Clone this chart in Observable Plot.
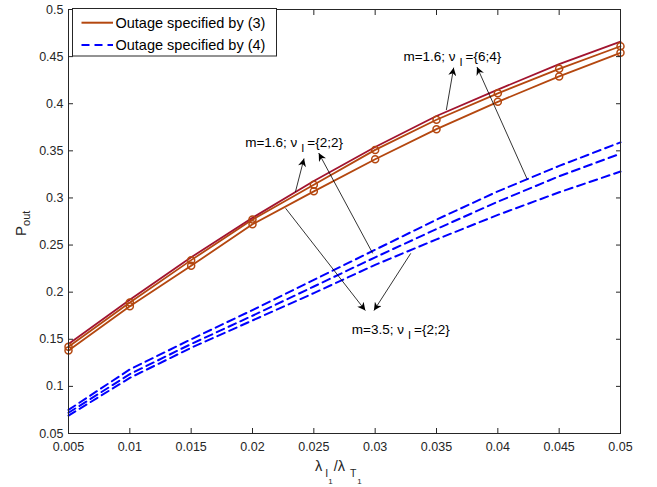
<!DOCTYPE html>
<html><head><meta charset="utf-8">
<script src="https://cdn.jsdelivr.net/npm/d3@7"></script>
<script src="https://cdn.jsdelivr.net/npm/@observablehq/plot@0.6"></script>
<style>
body{margin:0;background:#fff}
#chart{position:relative;width:657px;height:487px}
</style>
</head><body><div id="chart"></div>
<script>
// ---- data ----
const xValues = [0.005, 0.01, 0.015, 0.02, 0.025, 0.03, 0.035, 0.04, 0.045, 0.05];
const solidCrimson = [0.145, 0.192, 0.237, 0.279, 0.318, 0.354, 0.387, 0.415, 0.442, 0.466];
const solidBrownUpper = [0.142, 0.189, 0.234, 0.277, 0.314, 0.351, 0.383, 0.411, 0.437, 0.461];
const solidBrownLower = [0.138, 0.185, 0.228, 0.272, 0.307, 0.341, 0.373, 0.402, 0.429, 0.454];
const dashedTop = [0.075, 0.118, 0.150, 0.181, 0.213, 0.245, 0.277, 0.307, 0.334, 0.359];
const dashedMid = [0.072, 0.113, 0.145, 0.175, 0.206, 0.237, 0.267, 0.296, 0.323, 0.347];
const dashedBottom = [0.069, 0.109, 0.141, 0.170, 0.199, 0.229, 0.256, 0.282, 0.306, 0.328];
const xTicks = [0.005, 0.01, 0.015, 0.02, 0.025, 0.03, 0.035, 0.04, 0.045, 0.05];
const yTicks = [0.05, 0.1, 0.15, 0.2, 0.25, 0.3, 0.35, 0.4, 0.45, 0.5];
const legendLabels = ["Outage specified by (3)", "Outage specified by (4)"];
const annotationPre = ["m=1.6; \u03bd", "m=1.6; \u03bd", "m=3.5; \u03bd"];
const annotationSub = ["I", "I", "I"];
const annotationPost = ["={6;4}", "={2;2}", "={2;2}"];
const annotationX = [0.0323, 0.0194, 0.0281];
const annotationY = [0.450, 0.3585, 0.160];
const arrowFromX = [0.0358, 0.0424, 0.0235, 0.0298, 0.0227, 0.0329];
const arrowFromY = [0.3933, 0.3197, 0.3064, 0.2412, 0.2890, 0.2412];
const arrowToX   = [0.0364, 0.0383, 0.0242, 0.0254, 0.0292, 0.0299];
const arrowToY   = [0.4383, 0.4390, 0.3419, 0.3476, 0.1805, 0.1805];

// ---- tables ----
const seriesDefs = [
  {name: "dashedTop", vals: dashedTop},
  {name: "dashedMid", vals: dashedMid},
  {name: "dashedBottom", vals: dashedBottom},
  {name: "brownLower", vals: solidBrownLower},
  {name: "brownUpper", vals: solidBrownUpper},
  {name: "crimson", vals: solidCrimson}
];
const rows = seriesDefs.flatMap(s => s.vals.map((v, i) => ({x: xValues[i], y: v, series: s.name})));
const dashedRows = rows.filter(r => r.series.startsWith("dashed"));
const brownRows = rows.filter(r => r.series.startsWith("brown"));
const crimsonRows = rows.filter(r => r.series === "crimson");
const annotations = annotationPre.map((p, i) => ({pre: p, sub: annotationSub[i], post: annotationPost[i], x: annotationX[i], y: annotationY[i]}));
const arrows = arrowFromX.map((d, i) => ({x1: d, y1: arrowFromY[i], x2: arrowToX[i], y2: arrowToY[i]}));

const BROWN = "#B4470F", CRIMSON = "#A2142F", BLUE = "#0000FF", AX = "#262626";
const fmt = d3.format("~g");
const FONT = "'Liberation Sans', Arial, Helvetica, sans-serif";

const plot = Plot.plot({
  width: 657, height: 487,
  marginLeft: 68, marginRight: 37, marginTop: 9, marginBottom: 54,
  x: {domain: [0.005, 0.05]},
  y: {domain: [0.05, 0.5]},
  style: {fontFamily: FONT, background: "white", overflow: "visible"},
  marks: [
    Plot.line(dashedRows, {x: "x", y: "y", z: "series", stroke: BLUE, strokeWidth: 2, strokeDasharray: "8,5"}),
    Plot.line(brownRows, {x: "x", y: "y", z: "series", stroke: BROWN, strokeWidth: 1.8}),
    Plot.line(crimsonRows, {x: "x", y: "y", stroke: CRIMSON, strokeWidth: 1.8}),
    Plot.dot(brownRows, {x: "x", y: "y", r: 3.5, stroke: BROWN, strokeWidth: 1.5, fill: "none"}),
    Plot.link(arrows, {x1: "x1", y1: "y1", x2: "x2", y2: "y2", stroke: "black", strokeWidth: 0.8}),
    Plot.text(annotations, {x: "x", y: "y", text: d => d.pre + d.sub + d.post, textAnchor: "start", fontSize: 13.5, fill: "black"}),
    Plot.frame({stroke: AX}),
    Plot.axisX(xTicks, {anchor: "bottom", tickSize: 0, tickPadding: 9, tickFormat: fmt, fontSize: 12.5, color: AX, label: null}),
    Plot.axisX(xTicks, {anchor: "bottom", tickSize: -5, tickFormat: () => "", stroke: AX, label: null}),
    Plot.axisX(xTicks, {anchor: "top", tickSize: -5, tickFormat: () => "", stroke: AX, label: null}),
    Plot.axisY(yTicks, {anchor: "left", tickSize: 0, tickPadding: 5, tickFormat: fmt, fontSize: 12.5, color: AX, label: null}),
    Plot.axisY(yTicks, {anchor: "left", tickSize: -5, tickFormat: () => "", stroke: AX, label: null}),
    Plot.axisY(yTicks, {anchor: "right", tickSize: -5, tickFormat: () => "", stroke: AX, label: null})
  ]
});
document.getElementById("chart").appendChild(plot);

const svg = d3.select(plot);
const xs = plot.scale("x"), ys = plot.scale("y");
const frameLeft = xs.range[0], frameRight = xs.range[1], frameBottom = ys.range[0], frameTop = ys.range[1];

// arrowhead marker
const defs = svg.insert("defs", ":first-child");
defs.append("marker").attr("id", "ahead").attr("viewBox", "0 0 10 10")
  .attr("refX", 10).attr("refY", 5).attr("markerWidth", 9).attr("markerHeight", 8)
  .attr("markerUnits", "userSpaceOnUse").attr("orient", "auto")
  .append("path").attr("d", "M0,0L10,5L0,10L3,5Z").attr("fill", "black");
svg.selectAll('g[aria-label="link"] path').attr("marker-end", "url(#ahead)");

// annotation subscripts
svg.selectAll('g[aria-label="text"] text').each(function(_, i) {
  const a = annotations[i];
  const t = d3.select(this);
  t.text(null);
  t.append("tspan").text(a.pre);
  t.append("tspan").attr("dx", 4).attr("dy", 5).attr("font-size", 11).text(a.sub);
  t.append("tspan").attr("dx", 3).attr("dy", -5).text(a.post);
});

// x axis label: λ_{I_1}/λ_{T_1}
const cx = (frameLeft + frameRight) / 2;
const xl = svg.append("text").attr("x", cx - 29).attr("y", frameBottom + 38)
  .attr("text-anchor", "start")
  .attr("font-size", 14.5).attr("fill", AX).attr("font-family", FONT);
xl.append("tspan").text("\u03bb");
xl.append("tspan").attr("dx", 3).attr("dy", 6).attr("font-size", 10.5).text("I");
xl.append("tspan").attr("dy", 7).attr("font-size", 8).text("1");
xl.append("tspan").attr("dx", 1).attr("dy", -13).text("/\u03bb");
xl.append("tspan").attr("dx", 5).attr("dy", 6).attr("font-size", 10.5).text("T");
xl.append("tspan").attr("dx", 1).attr("dy", 7).attr("font-size", 8).text("1");

// y axis label: P_out
const cy = (frameTop + frameBottom) / 2;
const yl = svg.append("text").attr("transform", `translate(26,${cy + 15}) rotate(-90)`)
  .attr("text-anchor", "start")
  .attr("font-size", 15).attr("fill", AX).attr("font-family", FONT);
yl.append("tspan").text("P");
yl.append("tspan").attr("dy", 4).attr("font-size", 11).text("out");

// legend
const lg = svg.append("g").attr("font-family", FONT).attr("text-anchor", "start");
lg.append("rect").attr("x", frameLeft + 4.5).attr("y", frameTop - 0.5).attr("width", 204).attr("height", 47.5)
  .attr("fill", "white").attr("stroke", AX).attr("stroke-width", 1);
const legendStyles = [{stroke: BROWN, dash: null}, {stroke: BLUE, dash: "8,5"}];
legendLabels.forEach((lab, i) => {
  const yy = frameTop + 13.7 + i * 22.3;
  lg.append("line").attr("x1", frameLeft + 13.5).attr("x2", frameLeft + 45).attr("y1", yy).attr("y2", yy)
    .attr("stroke", legendStyles[i].stroke).attr("stroke-width", 2)
    .attr("stroke-dasharray", legendStyles[i].dash);
  lg.append("text").attr("x", frameLeft + 47.5).attr("y", yy).attr("dy", "0.35em")
    .attr("font-size", 14.5).attr("fill", "black").text(lab);
});
</script>
</body></html>
